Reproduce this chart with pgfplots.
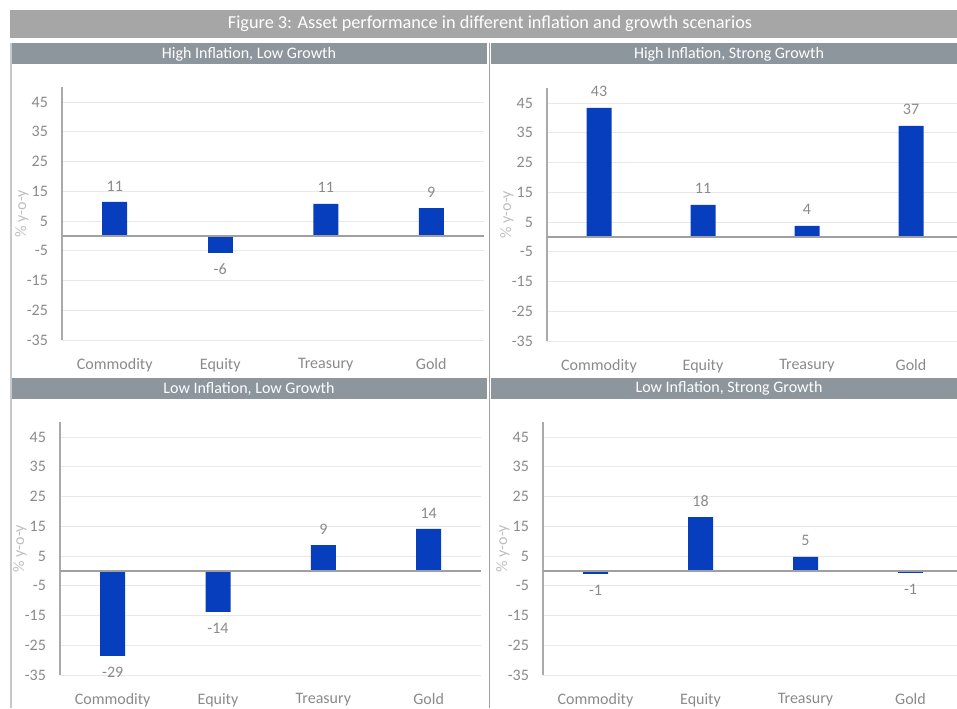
\documentclass[border=0pt]{standalone}
\usepackage{pgfplots}
\pgfplotsset{compat=1.18}
\usepackage{fontspec}
\setmainfont{Carlito}
\definecolor{barblue}{RGB}{6,62,190}
\definecolor{titlegray}{RGB}{166,166,166}
\definecolor{headgray}{RGB}{142,150,157}
\definecolor{gridgray}{RGB}{232,232,232}
\definecolor{axisgray}{RGB}{170,170,170}
\definecolor{zerogray}{RGB}{160,160,160}
\definecolor{txtgray}{RGB}{138,138,138}
\definecolor{ylabgray}{RGB}{190,190,190}
\definecolor{bordergray}{RGB}{200,200,200}
\def\px{0.75pt}
\pgfplotsset{
 panel/.style={
  x=#1, y=2.231pt,
  ymin=-35, ymax=50, xmin=-0.5,
  ytick={-35,-25,...,45},
  xtick={0,1,2,3},
  xticklabels={Commodity,Equity,Treasury,Gold},
  ymajorgrids, grid style={gridgray, line width=0.6pt},
  axis x line*=bottom, axis y line*=left,
  x axis line style={draw=none},
  y axis line style={draw=axisgray, line width=1pt},
  major tick length=0pt,
  tick label style={font=\fontsize{12}{14}\selectfont, text=txtgray},
  yticklabel style={xshift=-7pt},
  xticklabel style={yshift=-10pt},
  /pgf/number format/assume math mode=true,
  ybar, bar width=18.75pt, bar shift=0pt,
  nodes near coords, point meta=explicit symbolic,
  nodes near coords style={font=\fontsize{12}{14}\selectfont, text=txtgray, inner ysep=8pt},
  clip=false,
  anchor=south west,
 },
 pos/.style={fill=barblue, draw=none, nodes near coords style={anchor=south}},
 neg/.style={fill=barblue, draw=none, nodes near coords style={anchor=north}},
}
\newcommand\ylab{\node[rotate=90, text=ylabgray, font=\fontsize{12}{14}\selectfont] at ([xshift=-30pt]rel axis cs:0,0.5) {\% y-o-y};}
\begin{document}
\begin{tikzpicture}
\useasboundingbox (0,0) rectangle (957*\px,-708*\px);
% title and headers
\fill[titlegray] (10*\px,-10*\px) rectangle (957*\px,-38*\px);
\node[text=white, font=\fontsize{13.7}{16}\selectfont] at (490*\px,-24*\px) {Figure 3: Asset performance in different inflation and growth scenarios};
\fill[headgray] (10*\px,-43*\px) rectangle (487*\px,-64*\px);
\fill[headgray] (491*\px,-43*\px) rectangle (957*\px,-64*\px);
\fill[headgray] (10*\px,-378*\px) rectangle (487*\px,-399*\px);
\fill[headgray] (491*\px,-378*\px) rectangle (957*\px,-399*\px);
\draw[bordergray, line width=1pt] (11*\px,-43*\px) -- (11*\px,-708*\px);
\draw[zerogray, line width=1pt] (489.5*\px,-43*\px) -- (489.5*\px,-708*\px);
\node[text=white, font=\fontsize{12}{14}\selectfont] at (249*\px,-54*\px) {High Inflation, Low Growth};
\node[text=white, font=\fontsize{12}{14}\selectfont] at (729*\px,-54*\px) {High Inflation, Strong Growth};
\node[text=white, font=\fontsize{12}{14}\selectfont] at (249*\px,-388.5*\px) {Low Inflation, Low Growth};
\node[text=white, font=\fontsize{12}{14}\selectfont] at (729*\px,-388.5*\px) {Low Inflation, Strong Growth};

% top left
\begin{axis}[panel=79.125pt, xmax=3.5, at={(62*\px,-340*\px)}]
\addplot[pos] coordinates {(0,11.4) [11] (2,10.8) [11] (3,9.3) [9]};
\addplot[neg] coordinates {(1,-5.8) [-6]};
\draw[zerogray, line width=1.5pt] (axis cs:-0.5,0) -- (axis cs:3.5,0);
\ylab
\end{axis}

% top right
\begin{axis}[panel=78pt, xmax=3.442, at={(547*\px,-341*\px)}]
\addplot[pos] coordinates {(0,43.4) [43] (1,10.8) [11] (2,3.7) [4] (3,37.3) [37]};
\draw[zerogray, line width=1.5pt] (axis cs:-0.5,0) -- (axis cs:3.442,0);
\ylab
\end{axis}

% bottom left
\begin{axis}[panel=79pt, xmax=3.5, at={(60*\px,-675*\px)}]
\addplot[pos] coordinates {(2,8.7) [9] (3,14.1) [14]};
\addplot[neg] coordinates {(0,-28.6) [-29] (1,-13.8) [-14]};
\draw[zerogray, line width=1.5pt] (axis cs:-0.5,0) -- (axis cs:3.5,0);
\ylab
\end{axis}

% bottom right
\begin{axis}[panel=78.75pt, xmax=3.443, at={(543*\px,-675*\px)}]
\addplot[pos] coordinates {(1,18.1) [18] (2,4.7) [5]};
\addplot[neg] coordinates {(0,-1.0) [-1] (3,-0.7) [-1]};
\draw[zerogray, line width=1.5pt] (axis cs:-0.5,0) -- (axis cs:3.443,0);
\ylab
\end{axis}
\end{tikzpicture}
\end{document}
